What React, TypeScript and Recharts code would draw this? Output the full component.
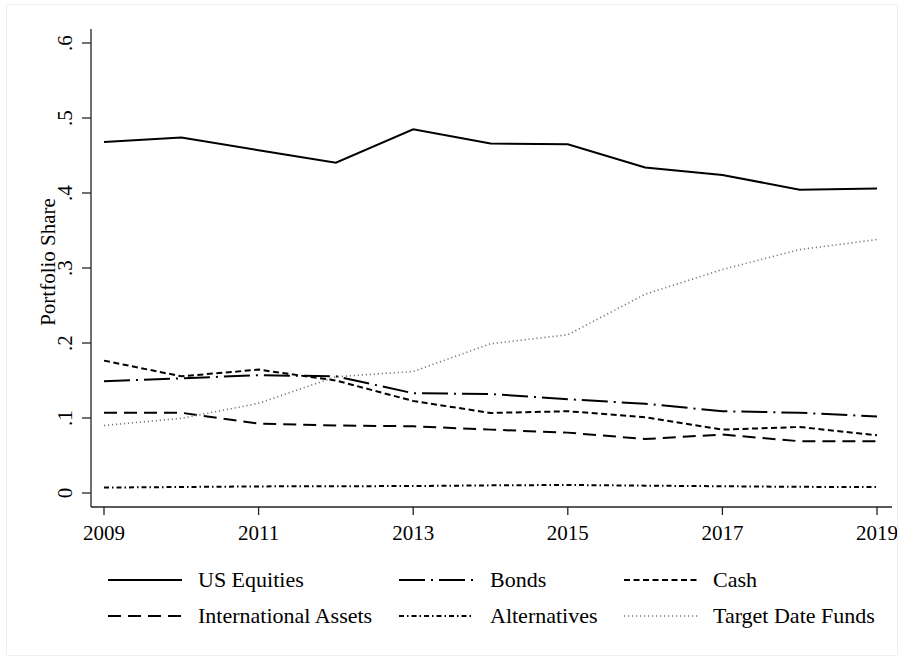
import { LineChart, Line, XAxis, YAxis } from "recharts";

const years = [2009, 2010, 2011, 2012, 2013, 2014, 2015, 2016, 2017, 2018, 2019];

const usEquities = [0.468, 0.474, 0.457, 0.4405, 0.485, 0.466, 0.465, 0.434, 0.424, 0.4045, 0.406];
const bonds = [0.149, 0.153, 0.157, 0.1556, 0.133, 0.132, 0.125, 0.119, 0.109, 0.107, 0.102];
const cash = [0.1765, 0.1556, 0.1645, 0.15, 0.1227, 0.1067, 0.109, 0.101, 0.0845, 0.088, 0.077];
const intlAssets = [0.107, 0.107, 0.0925, 0.09, 0.089, 0.0845, 0.0805, 0.072, 0.078, 0.069, 0.069];
const alternatives = [0.0072, 0.008, 0.0088, 0.009, 0.0093, 0.0102, 0.0107, 0.0098, 0.009, 0.0082, 0.008];
const targetDate = [0.09, 0.0995, 0.1196, 0.155, 0.162, 0.199, 0.211, 0.265, 0.298, 0.3245, 0.338];

const xTicks = [2009, 2011, 2013, 2015, 2017, 2019];
const yTicks = [0, 0.1, 0.2, 0.3, 0.4, 0.5, 0.6];
const yTickLabels = ["0", ".1", ".2", ".3", ".4", ".5", ".6"];

// legend order (row-major, 3 columns)
const series = [
  { key: "us", name: "US Equities", values: usEquities, dash: undefined, color: "#000", width: 2 },
  { key: "bonds", name: "Bonds", values: bonds, dash: "26 6 2 6", color: "#000", width: 2 },
  { key: "cash", name: "Cash", values: cash, dash: "6 3.5", color: "#000", width: 2 },
  { key: "intl", name: "International Assets", values: intlAssets, dash: "13 7", color: "#000", width: 2 },
  { key: "alt", name: "Alternatives", values: alternatives, dash: "5 3 1.5 3", color: "#000", width: 2 },
  { key: "tdf", name: "Target Date Funds", values: targetDate, dash: "1.2 2.8", color: "#777", width: 1.6 },
];

const data = years.map((year, i) => {
  const row: Record<string, number> = { year };
  series.forEach((s) => {
    row[s.key] = s.values[i];
  });
  return row;
});

const FONT = "'Liberation Serif', 'Times New Roman', serif";

const YTick = (props: any) => {
  const { y, payload } = props;
  const idx = yTicks.indexOf(payload.value);
  return (
    <text
      x={72}
      y={y}
      transform={`rotate(-90 72 ${y})`}
      textAnchor="middle"
      fontFamily={FONT}
      fontSize={21}
      fill="#000"
    >
      {yTickLabels[idx] ?? payload.value}
    </text>
  );
};

const XTick = (props: any) => {
  const { x, y, payload } = props;
  return (
    <text x={x} y={y} dy={23} textAnchor="middle" fontFamily={FONT} fontSize={21} fill="#000">
      {payload.value}
    </text>
  );
};

const legendCols = [
  { lineX: 108, textX: 198 },
  { lineX: 399, textX: 490 },
  { lineX: 624, textX: 713 },
];
const legendRows = [580, 616];

export default function App() {
  return (
    <div style={{ position: "absolute", left: 0, top: 0, width: 904, height: 660, background: "#fff" }}>
      <LineChart
        width={904}
        height={660}
        data={data}
        margin={{ top: 29, right: 12, bottom: 113, left: 31 }}
      >
        <XAxis
          dataKey="year"
          type="number"
          domain={[2009, 2019]}
          ticks={xTicks}
          padding={{ left: 13, right: 15 }}
          height={40}
          tickSize={8}
          stroke="#222"
          strokeWidth={1.3}
          tick={<XTick />}
        />
        <YAxis
          type="number"
          domain={[0, 0.6]}
          ticks={yTicks}
          padding={{ top: 14, bottom: 14 }}
          width={60}
          tickSize={9}
          stroke="#222"
          strokeWidth={1.3}
          tick={<YTick />}
        />
        {series.map((s) => (
          <Line
            key={s.key}
            dataKey={s.key}
            name={s.name}
            type="linear"
            stroke={s.color}
            strokeWidth={s.width}
            strokeDasharray={s.dash}
            dot={false}
            activeDot={false}
            isAnimationActive={false}
          />
        ))}
      </LineChart>
      <svg
        width={904}
        height={660}
        style={{ position: "absolute", left: 0, top: 0, pointerEvents: "none" }}
      >
        <rect x={6.5} y={4.5} width={891} height={651} fill="none" stroke="#efefef" />
        <text
          x={55}
          y={262}
          transform="rotate(-90 55 262)"
          textAnchor="middle"
          fontFamily={FONT}
          fontSize={21}
          fill="#000"
        >
          Portfolio Share
        </text>
        {series.map((s, i) => {
          const col = legendCols[i % 3];
          const rowY = legendRows[Math.floor(i / 3)];
          return (
            <g key={s.key}>
              <line
                x1={col.lineX}
                x2={col.lineX + 74}
                y1={rowY}
                y2={rowY}
                stroke={s.color}
                strokeWidth={s.width}
                strokeDasharray={s.dash}
              />
              <text x={col.textX} y={rowY + 7} fontFamily={FONT} fontSize={22} fill="#000">
                {s.name}
              </text>
            </g>
          );
        })}
      </svg>
    </div>
  );
}
